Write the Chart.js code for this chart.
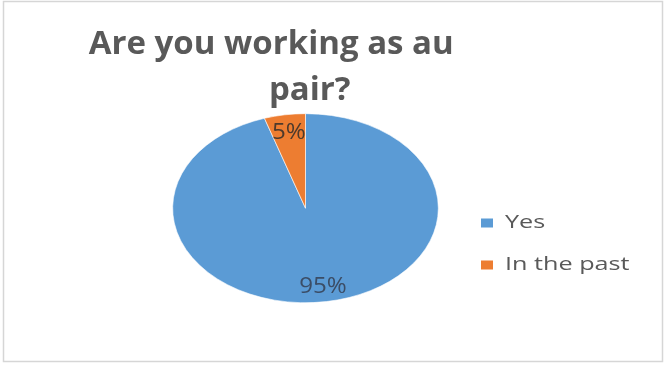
<!DOCTYPE html>
<html>
<head>
<meta charset="utf-8">
<script src="https://cdn.jsdelivr.net/npm/chart.js@4/dist/chart.umd.min.js"></script>
<style>
  html, body { margin: 0; padding: 0; background: #fff; }
  #wrap { width: 665px; height: 368px; }
  #auPair { filter: blur(0.4px); }
</style>
</head>
<body>
<div id="wrap"><canvas id="auPair" width="665" height="368"></canvas></div>
<script>
// first line keeps its trailing spaces so it sits left of the second one
const titleLines = ['Are you working as au        ', ' pair?'];
const answers = ['Yes', 'In the past'];
const shares = [95, 5];
const sliceColors = ['#5B9BD5', '#ED7D31'];
const labelColors = ['#3b4d66', '#4d3a2c'];

// the pie (and the small texts) are drawn a little wider than tall
const stretchX = 1.405;
const labelRadius = [0.84, 0.8];

const frame = {
  id: 'frame',
  beforeDraw(chart) {
    const ctx = chart.ctx;
    ctx.save();
    ctx.fillStyle = '#fff';
    ctx.fillRect(0, 0, chart.width, chart.height);
    ctx.strokeStyle = '#d6d6d6';
    ctx.lineWidth = 1.5;
    ctx.strokeRect(3.5, 1.5, 659, 360);
    ctx.restore();
  }
};

function wideText(ctx, text, x, y, sx) {
  ctx.save();
  ctx.translate(x, y);
  ctx.scale(sx, 1);
  ctx.fillText(text, 0, 0);
  ctx.restore();
}

const stretchPie = {
  id: 'stretchPie',
  beforeDatasetsDraw(chart) {
    const arc = chart.getDatasetMeta(0).data[0];
    const ctx = chart.ctx;
    ctx.save();
    ctx.translate(arc.x, arc.y);
    ctx.scale(stretchX, 1);
    ctx.translate(-arc.x, -arc.y);
  },
  afterDatasetsDraw(chart) {
    const ctx = chart.ctx;
    ctx.restore();

    // percentage labels inside each slice
    const total = shares.reduce((a, b) => a + b, 0);
    ctx.save();
    ctx.font = '21px "Open Sans"';
    ctx.textAlign = 'center';
    ctx.textBaseline = 'middle';
    chart.getDatasetMeta(0).data.forEach((arc, i) => {
      const mid = (arc.startAngle + arc.endAngle) / 2;
      const r = arc.outerRadius * labelRadius[i];
      const x = arc.x + Math.cos(mid) * r * stretchX;
      const y = arc.y + Math.sin(mid) * r;
      ctx.fillStyle = labelColors[i];
      wideText(ctx, Math.round(shares[i] / total * 100) + '%', x, y, 1.15);
    });
    ctx.restore();
  }
};

const sideLegend = {
  id: 'sideLegend',
  afterDraw(chart) {
    const ctx = chart.ctx;
    ctx.save();
    ctx.font = '18px "Open Sans"';
    ctx.textBaseline = 'middle';
    chart.data.labels.forEach((label, i) => {
      const y = 223 + i * 42;
      ctx.fillStyle = chart.data.datasets[0].backgroundColor[i];
      ctx.fillRect(481, y - 4.5, 12, 9);
      ctx.fillStyle = '#595959';
      wideText(ctx, label, 505, y, 1.4);
    });
    ctx.restore();
  }
};

new Chart(document.getElementById('auPair'), {
  type: 'pie',
  data: {
    labels: answers,
    datasets: [{
      data: shares,
      backgroundColor: sliceColors,
      borderColor: '#ffffff',
      borderWidth: 0.5,
      clip: false
    }]
  },
  options: {
    responsive: false,
    animation: false,
    layout: { padding: { left: 0, right: 54, top: 0, bottom: 65 } },
    plugins: {
      legend: { display: false },
      tooltip: { enabled: false },
      title: {
        display: true,
        text: titleLines,
        color: '#595959',
        font: { family: '"Open Sans"', size: 33, weight: 'bold', lineHeight: 1.4 },
        padding: { top: 21, bottom: 0 }
      }
    }
  },
  plugins: [frame, stretchPie, sideLegend]
});
</script>
</body>
</html>
